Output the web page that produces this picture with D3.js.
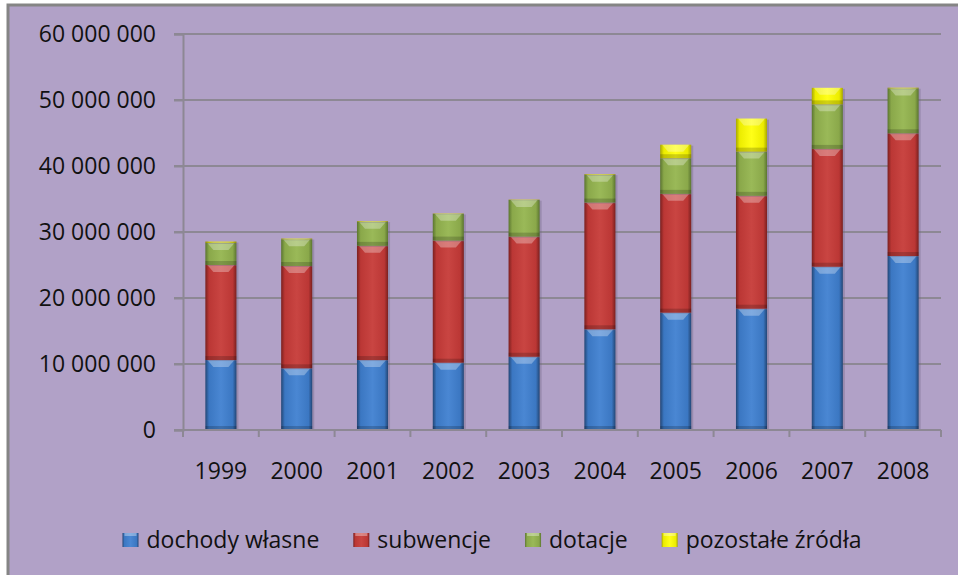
<!DOCTYPE html>
<html>
<head>
<meta charset="utf-8">
<script src="https://cdn.jsdelivr.net/npm/d3@7"></script>
<style>
  html, body { margin: 0; padding: 0; background: #fff; }
  svg { display: block; font-family: "Open Sans", sans-serif; }
</style>
</head>
<body>
<div id="chart"></div>
<script>
const width = 958;
const height = 575;

// values, in PLN
const years = ["1999", "2000", "2001", "2002", "2003", "2004", "2005", "2006", "2007", "2008"];
const dochodyWlasne = [10600000, 9350000, 10600000, 10200000, 11100000, 15260000, 17780000, 18380000, 24740000, 26360000];
const subwencje = [14400000, 15500000, 17300000, 18500000, 18200000, 19200000, 18000000, 17100000, 17850000, 18600000];
const dotacje = [3350000, 4050000, 3650000, 4050000, 5550000, 4200000, 5400000, 6700000, 6750000, 6800000];
const pozostale = [200000, 100000, 100000, 50000, 50000, 100000, 2050000, 5000000, 2500000, 100000];
const seriesNames = ["dochody własne", "subwencje", "dotacje", "pozostałe źródła"];
const yTicks = [0, 10000000, 20000000, 30000000, 40000000, 50000000, 60000000];

const rows = years.map((y, i) => ({
  year: y,
  "dochody własne": dochodyWlasne[i],
  "subwencje": subwencje[i],
  "dotacje": dotacje[i],
  "pozostałe źródła": pozostale[i]
}));

const margin = {top: 34, right: 17, bottom: 145, left: 183};

const svg = d3.select("#chart").append("svg")
  .attr("width", width)
  .attr("height", height);

// purple chart area with a grey frame on the left and top
svg.append("rect")
  .attr("x", 8).attr("y", 5)
  .attr("width", width).attr("height", height)
  .attr("fill", "#b1a1c7")
  .attr("stroke", "#858585")
  .attr("stroke-width", 3);

const x = d3.scaleBand()
  .domain(years)
  .range([margin.left, width - margin.right])
  .paddingInner(0.59)
  .paddingOuter(0.295);

const y = d3.scaleLinear()
  .domain([0, 60000000])
  .range([height - margin.bottom, margin.top]);

const pl = d3.formatLocale({decimal: ",", thousands: " ", grouping: [3], currency: ["", " zł"]});
const fmt = pl.format(",");

const color = d3.scaleOrdinal()
  .domain(seriesNames)
  .range([
    ["#234675", "#3b77c2", "#4a87d3"],
    ["#7a201f", "#bb3735", "#c94542"],
    ["#5b7530", "#8aa84a", "#9ab958"],
    ["#a8a800", "#ecec00", "#ffff18"]
  ]);

const defs = svg.append("defs");
seriesNames.forEach((s, i) => {
  const c = color(s);
  const g = defs.append("linearGradient")
    .attr("id", "grad" + i)
    .attr("x1", 0).attr("x2", 1).attr("y1", 0).attr("y2", 0);
  g.append("stop").attr("offset", "0%").attr("stop-color", c[0]);
  g.append("stop").attr("offset", "12%").attr("stop-color", c[1]);
  g.append("stop").attr("offset", "50%").attr("stop-color", c[2]);
  g.append("stop").attr("offset", "88%").attr("stop-color", c[1]);
  g.append("stop").attr("offset", "100%").attr("stop-color", c[0]);
});

// gridlines
svg.append("g")
  .selectAll("line")
  .data(yTicks.slice(1))
  .join("line")
    .attr("x1", margin.left - 9)
    .attr("x2", width - margin.right)
    .attr("y1", d => y(d))
    .attr("y2", d => y(d))
    .attr("stroke", "#8d8894")
    .attr("stroke-width", 2);

// y axis
const yAxis = g => g
  .attr("transform", `translate(${margin.left},0)`)
  .call(d3.axisLeft(y).tickValues(yTicks).tickFormat(fmt).tickSize(9).tickPadding(18))
  .call(g => g.select(".domain").attr("stroke", "#8d8894").attr("stroke-width", 2))
  .call(g => g.selectAll(".tick line").attr("stroke", "#8d8894").attr("stroke-width", 2))
  .call(g => g.selectAll(".tick text")
    .attr("fill", "#111")
    .attr("font-size", 23)
    .attr("font-family", "Open Sans, sans-serif"));

svg.append("g").call(yAxis);

// stacked bars
const stacked = d3.stack().keys(seriesNames)(rows);

const layers = svg.append("g")
  .selectAll("g")
  .data(stacked)
  .join("g");

// soft shadow on the right
layers.selectAll("rect.shadow")
  .data(d => d)
  .join("rect")
    .attr("class", "shadow")
    .attr("x", d => x(d.data.year) + 2)
    .attr("y", d => y(d[1]) + 1)
    .attr("width", x.bandwidth())
    .attr("height", d => Math.max(0, y(d[0]) - y(d[1])))
    .attr("fill", "#6e6080")
    .attr("opacity", 0.35);

const segH = d => Math.max(0, y(d[0]) - y(d[1]));

layers.each(function(layer, i) {
  const g = d3.select(this);
  g.selectAll("rect.bar")
    .data(layer)
    .join("rect")
      .attr("class", "bar")
      .attr("x", d => x(d.data.year))
      .attr("y", d => y(d[1]))
      .attr("width", x.bandwidth())
      .attr("height", segH)
      .attr("fill", `url(#grad${i})`);
  // light bevel on top, darker at the bottom
  g.selectAll("path.top")
    .data(layer)
    .join("path")
      .attr("class", "top")
      .attr("d", d => {
        const x0 = x(d.data.year), w = x.bandwidth(), t = y(d[1]);
        const h = Math.min(7, segH(d));
        return `M${x0 + 2},${t}H${x0 + w - 2}L${x0 + w - 8},${t + h}H${x0 + 8}Z`;
      })
      .attr("fill", "#ffffff")
      .attr("opacity", 0.3);
  g.selectAll("rect.bottom")
    .data(layer)
    .join("rect")
      .attr("class", "bottom")
      .attr("x", d => x(d.data.year))
      .attr("y", d => y(d[0]) - Math.min(4, segH(d)))
      .attr("width", x.bandwidth())
      .attr("height", d => Math.min(4, segH(d)))
      .attr("fill", "#000000")
      .attr("opacity", 0.18);
});

// x axis with ticks between categories
const step = x.step();
const xAxis = g => g
  .attr("transform", `translate(0,${height - margin.bottom})`)
  .call(g => g.append("line")
    .attr("x1", margin.left - 9).attr("x2", width - margin.right)
    .attr("stroke", "#8d8894").attr("stroke-width", 2))
  .call(g => g.selectAll("line.sep")
    .data(d3.range(years.length + 1))
    .join("line")
      .attr("class", "sep")
      .attr("x1", i => margin.left + i * step)
      .attr("x2", i => margin.left + i * step)
      .attr("y1", 0).attr("y2", 7)
      .attr("stroke", "#8d8894").attr("stroke-width", 2))
  .call(g => g.selectAll("text")
    .data(years)
    .join("text")
      .attr("x", d => x(d) + x.bandwidth() / 2)
      .attr("y", 41)
      .attr("dy", "0.35em")
      .attr("text-anchor", "middle")
      .attr("fill", "#111")
      .attr("font-size", 23)
      .text(d => d));

svg.append("g").call(xAxis);

// legend
const legend = svg.append("g").attr("transform", "translate(0,540)");
const items = legend.selectAll("g")
  .data(seriesNames)
  .join("g");

items.append("rect")
  .attr("y", -7)
  .attr("width", 16)
  .attr("height", 14)
  .attr("fill", (d, i) => `url(#grad${i})`);
items.append("rect")
  .attr("x", 2)
  .attr("y", -7)
  .attr("width", 12)
  .attr("height", 3)
  .attr("fill", "#fff")
  .attr("opacity", 0.35);

items.append("text")
  .attr("x", 24)
  .attr("dy", "0.35em")
  .attr("fill", "#111")
  .attr("font-size", 23)
  .text(d => d);

let pos = 0;
const offsets = [];
items.each(function() {
  offsets.push(pos);
  pos += this.getBBox().width + 34;
});
const total = pos - 34;
const start = 492 - total / 2;
items.attr("transform", (d, i) => `translate(${start + offsets[i]},0)`);
</script>
</body>
</html>
